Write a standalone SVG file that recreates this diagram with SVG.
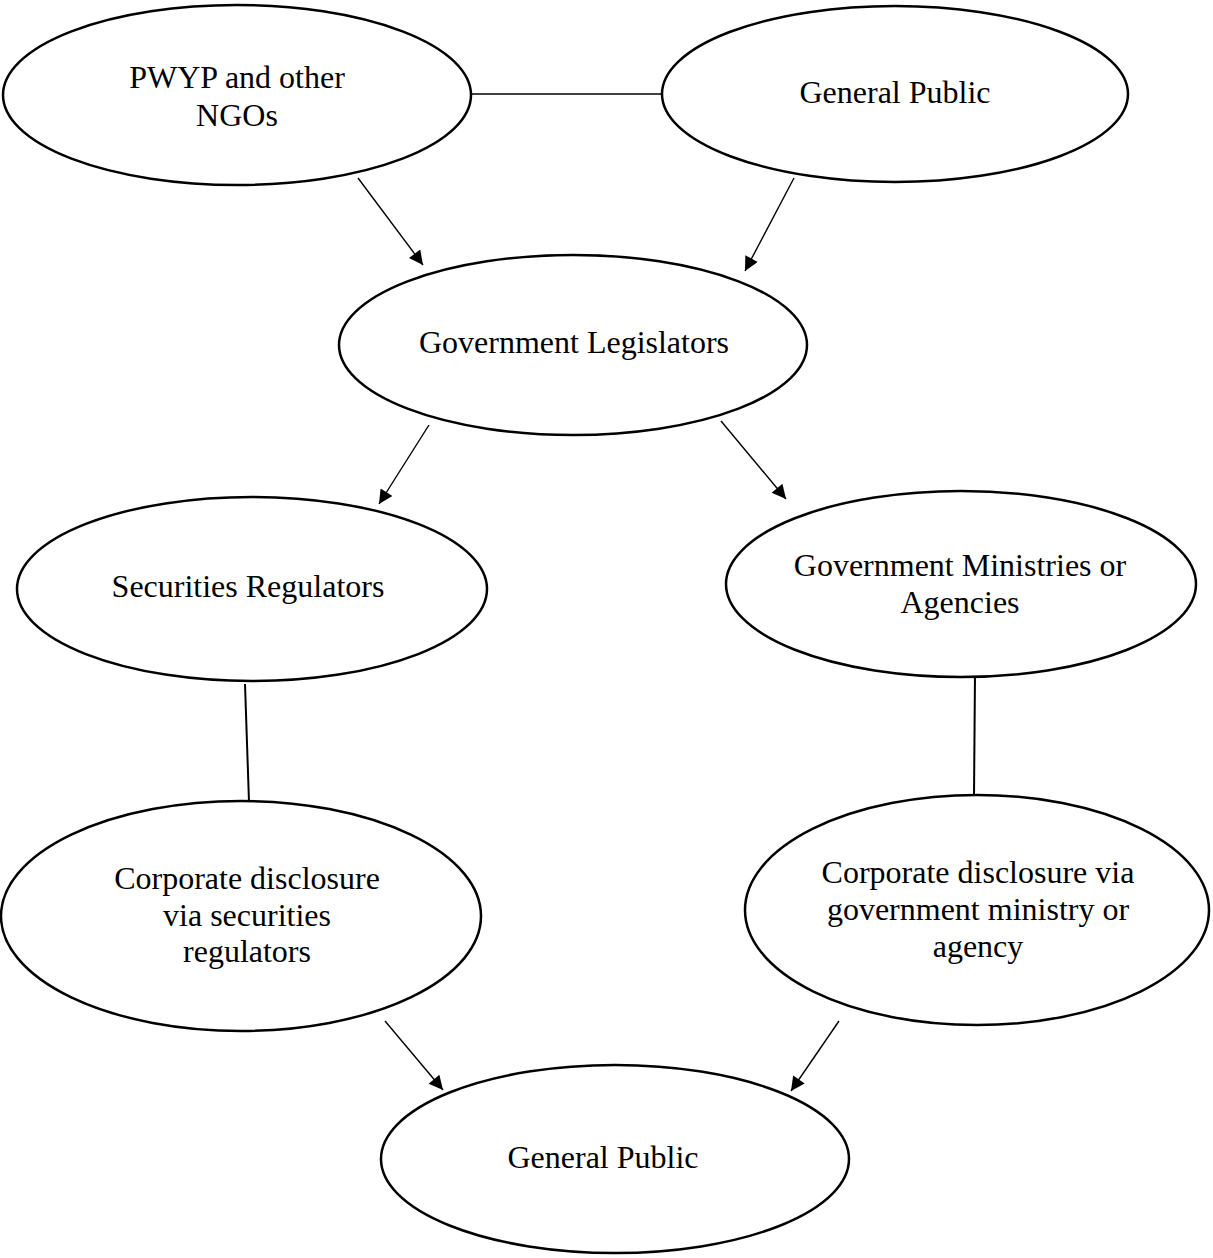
<svg xmlns="http://www.w3.org/2000/svg" width="1213" height="1258" viewBox="0 0 1213 1258">
<style>
.n{fill:#fff;stroke:#000;stroke-width:2.5}
.t{font-family:"Liberation Serif","Times New Roman",serif;font-size:32px;fill:#000;text-anchor:middle}
.c{stroke:#000;stroke-width:1.4;fill:none}
.a{marker-end:url(#ah)}
</style>
<defs>
<marker id="ah" viewBox="0 0 10 10" refX="10" refY="5" markerWidth="16" markerHeight="14" markerUnits="userSpaceOnUse" orient="auto">
<path d="M0,0 L10,5 L0,10 z" fill="#000"/>
</marker>
</defs>
<g id="connectors">
<line class="c" x1="472" y1="94" x2="662" y2="94"/>
<line class="c a" x1="358" y1="178" x2="423" y2="265"/>
<line class="c a" x1="794" y1="178" x2="745" y2="271"/>
<line class="c a" x1="429" y1="425" x2="379" y2="504"/>
<line class="c a" x1="721" y1="421" x2="786" y2="499"/>
<line class="c" style="stroke-width:2" x1="245" y1="684" x2="249" y2="802"/>
<line class="c" style="stroke-width:2" x1="975" y1="674" x2="974" y2="796"/>
<line class="c a" x1="385" y1="1021" x2="443" y2="1090"/>
<line class="c a" x1="839" y1="1021" x2="791" y2="1091"/>
</g>
<g id="pwyp">
<ellipse class="n" cx="237" cy="95" rx="234" ry="90"/>
<text class="t" x="237" y="88">PWYP and other</text>
<text class="t" x="237" y="126">NGOs</text>
</g>
<g id="public-top">
<ellipse class="n" cx="895" cy="94" rx="233" ry="88"/>
<text class="t" x="895" y="103">General Public</text>
</g>
<g id="legislators">
<ellipse class="n" cx="573" cy="345" rx="234" ry="90"/>
<text class="t" x="574" y="353">Government Legislators</text>
</g>
<g id="securities">
<ellipse class="n" cx="252" cy="589" rx="235" ry="92"/>
<text class="t" x="248" y="597">Securities Regulators</text>
</g>
<g id="ministries">
<ellipse class="n" cx="961" cy="584" rx="235" ry="93"/>
<text class="t" x="960" y="576">Government Ministries or</text>
<text class="t" x="960" y="613">Agencies</text>
</g>
<g id="corp-sec">
<ellipse class="n" cx="241" cy="916" rx="240" ry="115"/>
<text class="t" x="247" y="889">Corporate disclosure</text>
<text class="t" x="247" y="926">via securities</text>
<text class="t" x="247" y="962">regulators</text>
</g>
<g id="corp-gov">
<ellipse class="n" cx="977" cy="910" rx="232" ry="115"/>
<text class="t" x="978" y="883">Corporate disclosure via</text>
<text class="t" x="978" y="920">government ministry or</text>
<text class="t" x="978" y="957">agency</text>
</g>
<g id="public-bottom">
<ellipse class="n" cx="615" cy="1159" rx="234" ry="94"/>
<text class="t" x="603" y="1168">General Public</text>
</g>
</svg>
